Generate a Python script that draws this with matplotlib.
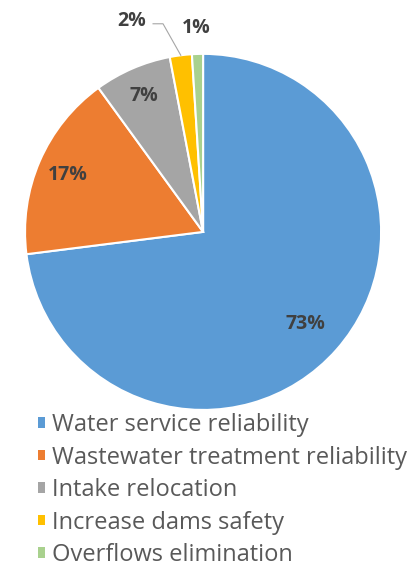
import numpy as np
import matplotlib.pyplot as plt
from matplotlib.patches import Patch

categories = ['Water service reliability', 'Wastewater treatment reliability',
              'Intake relocation', 'Increase dams safety', 'Overflows elimination']
values = [73, 17, 7, 2, 1]
colors = ['#5B9BD5', '#ED7D31', '#A5A5A5', '#FFC000', '#A9D18E']

plt.rcParams['font.family'] = ['Open Sans', 'DejaVu Sans']

fig = plt.figure(figsize=(4.17, 5.67), dpi=100)
ax = fig.add_axes([0.06, 0.277, 0.854, 0.628])

wedges, _ = ax.pie(values, colors=colors, startangle=90, counterclock=False,
                   radius=1, wedgeprops=dict(edgecolor='white', linewidth=1.5))
ax.set_xlim(-1, 1)
ax.set_ylim(-1, 1)
ax.set_aspect('equal')

# label spots for the big slices, relative to slice middle
label_dist = [0.77, 0.83, 0.84]
for w, v, d in zip(wedges[:3], values[:3], label_dist):
    mid = np.deg2rad((w.theta1 + w.theta2) / 2)
    ax.text(d * np.cos(mid), d * np.sin(mid) - 0.01, f'{v}%', ha='center', va='center',
            fontsize=14, fontweight='bold', color='#404040')

# small slices are labelled outside
ax.text(-0.40, 1.185, f'{values[3]}%', ha='center', va='center', fontsize=14,
        fontweight='bold', color='#404040')
mid = np.deg2rad((wedges[3].theta1 + wedges[3].theta2) / 2)
ax.plot([-0.281, -0.225, np.cos(mid)], [1.169, 1.169, np.sin(mid)],
        color='#A6A6A6', lw=0.8, clip_on=False)
ax.text(-0.04, 1.145, f'{values[4]}%', ha='center', va='center', fontsize=14,
        fontweight='bold', color='#404040')

handles = [Patch(facecolor=c, edgecolor='none') for c in colors]
fig.legend(handles, categories, loc='upper left', bbox_to_anchor=(0.068, 0.288),
           frameon=False, fontsize=17, labelcolor='#595959',
           handlelength=0.3, handleheight=0.3, handletextpad=0.3,
           labelspacing=0.36, borderaxespad=0)

fig.savefig('out.png', dpi=100)
